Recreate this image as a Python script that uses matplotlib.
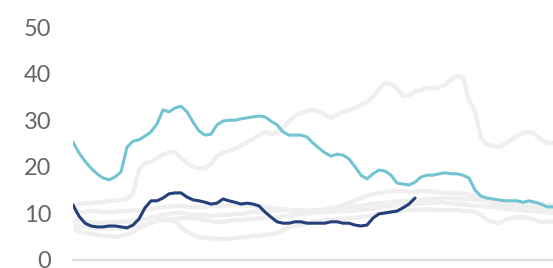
import numpy as np
import matplotlib
matplotlib.use('Agg')
import matplotlib.pyplot as plt

# highlighted series (values read every ~6 px along the x axis)
teal = [25.3, 23.0, 21.2, 19.7, 18.5, 17.6, 17.2, 17.8, 18.9, 24.2,
        25.5, 25.8, 26.6, 27.5, 29.2, 32.2, 31.8, 32.6, 33.0, 31.8,
        29.6, 27.7, 26.8, 27.0, 29.0, 29.8, 30.0, 30.0, 30.3, 30.5,
        30.7, 30.9, 30.7, 29.8, 29.0, 27.5, 26.8, 26.8, 26.8, 26.4,
        25.1, 24.0, 23.0, 22.3, 22.7, 22.5, 21.7, 20.0, 18.2, 17.4,
        18.5, 19.3, 19.1, 18.2, 16.5, 16.3, 16.1, 16.7, 17.8, 18.2,
        18.2, 18.5, 18.7, 18.5, 18.5, 18.2, 17.6, 15.0, 13.7, 13.3,
        13.1, 12.9, 12.7, 12.7, 12.7, 12.4, 12.7, 12.4, 12.0, 11.4, 11.4]

navy = [11.8, 9.4, 7.9, 7.3, 7.1, 7.1, 7.3, 7.3, 7.1, 6.9,
        7.5, 8.8, 11.2, 12.7, 12.7, 13.3, 14.2, 14.4, 14.4, 13.5,
        12.9, 12.7, 12.4, 12.0, 12.2, 13.1, 12.7, 12.4, 12.0, 12.2,
        12.0, 11.6, 10.3, 9.2, 8.2, 7.9, 7.9, 8.2, 8.2, 7.9,
        7.9, 7.9, 7.9, 8.2, 8.2, 7.9, 7.9, 7.5, 7.3, 7.5,
        9.0, 9.9, 10.1, 10.3, 10.5, 11.2, 12.0, 13.3]

# background series
grey1 = [11.8, 12.0, 12.2, 12.2, 12.4, 12.4, 12.7, 12.7, 12.9, 13.1,
         14.4, 19.3, 20.8, 21.0, 21.9, 22.7, 23.0, 23.2, 21.9, 20.8,
         20.0, 19.7, 19.7, 20.6, 22.3, 23.0, 23.4, 23.8, 24.5, 25.3,
         26.0, 26.8, 27.5, 27.0, 27.3, 28.3, 29.8, 30.9, 31.5, 32.0,
         32.2, 31.8, 31.1, 30.5, 31.1, 31.8, 32.2, 32.6, 33.3, 33.9,
         35.0, 36.7, 38.0, 37.8, 36.9, 35.2, 35.4, 36.1, 36.5, 36.9,
         36.9, 37.1, 37.6, 38.8, 39.5, 39.1, 34.3, 31.8, 26.2, 24.7,
         24.5, 24.2, 24.9, 25.8, 26.6, 27.3, 27.5, 27.0, 25.8, 25.1, 25.1]

grey2 = [6.9, 6.2, 5.8, 5.6, 5.4, 5.2, 5.2, 4.9, 5.2, 5.4,
         6.0, 6.9, 7.5, 7.9, 8.4, 8.6, 8.6, 8.2, 7.1, 6.0,
         5.4, 4.9, 4.7, 4.7, 4.5, 4.5, 4.5, 4.7, 4.9, 4.9,
         5.2, 5.2, 5.4, 5.6, 5.8, 6.4, 7.1, 7.3, 7.5, 7.9,
         8.2, 8.4, 8.6, 8.6, 8.8, 8.8, 9.0, 9.0, 9.2, 9.4,
         9.7, 9.9, 10.1, 10.3, 10.3, 10.5, 10.7, 10.7, 10.9, 10.9,
         10.7, 10.7, 10.7, 10.7, 10.7, 10.5, 10.5, 10.3, 9.7, 8.6,
         8.2, 7.9, 8.6, 9.0, 9.2, 9.2, 9.0, 8.6, 8.2, 8.2, 8.2]

grey3 = [10.3, 10.3, 10.3, 10.5, 10.5, 10.3, 10.3, 10.3, 10.5, 10.5,
         10.7, 10.7, 10.9, 11.0, 11.2, 11.4, 11.4, 11.6, 11.6, 11.4,
         11.4, 11.4, 11.4, 11.6, 11.6, 11.6, 11.8, 11.8, 11.8, 11.6,
         11.6, 11.6, 11.4, 11.2, 11.0, 10.9, 10.7, 10.5, 10.5, 10.5,
         10.7, 10.7, 10.9, 11.2, 11.4, 11.8, 12.2, 12.7, 13.3, 13.8,
         14.2, 14.4, 14.6, 14.8, 14.8, 14.8, 14.6, 14.6, 14.8, 14.8,
         14.6, 14.6, 14.4, 14.4, 14.4, 14.2, 14.0, 13.8, 13.3, 12.7,
         12.2, 11.8, 11.8, 11.6, 11.6, 11.4, 11.4, 11.2, 11.2, 11.0, 11.0]

grey4 = [8.6, 8.4, 8.2, 8.2, 8.0, 8.0, 8.0, 8.2, 8.2, 8.2,
         8.4, 8.6, 8.8, 9.0, 9.4, 9.7, 9.9, 10.1, 10.1, 9.9,
         9.7, 9.7, 9.7, 9.5, 9.5, 9.7, 9.7, 9.9, 9.9, 10.1,
         10.3, 10.3, 10.3, 10.5, 10.5, 10.7, 10.7, 10.7, 10.7, 10.5,
         10.5, 10.3, 10.3, 10.5, 10.7, 11.0, 11.2, 11.4, 11.6, 11.8,
         12.0, 12.2, 12.2, 12.4, 12.5, 12.7, 12.7, 12.9, 12.9, 13.1,
         13.1, 13.1, 13.3, 13.3, 13.1, 13.1, 13.1, 12.9, 12.9, 12.7,
         12.4, 12.2, 12.2, 12.2, 12.0, 12.0, 12.2, 12.2, 12.0, 11.8, 11.8]

grey5 = [7.5, 7.3, 7.1, 7.1, 6.9, 6.7, 6.7, 6.7, 6.9, 6.9,
         7.1, 7.3, 7.5, 7.9, 8.4, 8.6, 8.8, 8.8, 9.0, 9.0,
         9.0, 8.8, 8.6, 8.4, 8.2, 8.2, 8.4, 8.6, 8.6, 8.8,
         8.8, 9.0, 9.0, 9.2, 9.2, 9.4, 9.4, 9.7, 9.9, 9.9,
         10.1, 10.3, 10.3, 10.3, 10.5, 10.5, 10.5, 10.7, 10.7, 10.9,
         11.0, 11.2, 11.4, 11.6, 11.8, 11.8, 11.8, 12.0, 12.2, 12.2,
         12.2, 12.4, 12.2, 12.2, 12.0, 12.0, 11.8, 11.6, 11.6, 11.4,
         11.4, 11.2, 11.0, 10.9, 10.7, 10.7, 10.5, 10.5, 10.3, 10.3, 10.1]

yticks = [0, 10, 20, 30, 40, 50]

plt.rcParams['font.family'] = ['Lato', 'DejaVu Sans']

fig = plt.figure(figsize=(5.53, 2.68), dpi=100)
ax = fig.add_axes([73/553, 8/268, 1 - 73/553, 1 - 35/268])

for g in [grey1, grey2, grey3, grey4, grey5]:
    ax.plot(np.arange(len(g)), g, color='#efefef', lw=3.2,
            solid_capstyle='round', solid_joinstyle='round')

ax.plot(np.arange(len(teal)), teal, color='#72c4d3', lw=2.2,
        solid_capstyle='round', solid_joinstyle='round')
ax.plot(np.arange(len(navy)), navy, color='#243f7c', lw=2.2,
        solid_capstyle='round', solid_joinstyle='round')

ax.set_xlim(0, 80)
ax.set_ylim(0, 50)
ax.set_yticks(yticks)
ax.set_yticklabels([str(t) for t in yticks])
ax.tick_params(axis='y', length=0, pad=15.5, labelsize=17, labelcolor='#666666')
ax.set_xticks([])
for s in ['top', 'right', 'left']:
    ax.spines[s].set_visible(False)
ax.spines['bottom'].set_color('#dddddd')
ax.spines['bottom'].set_linewidth(1.6)

fig.savefig('out.png', dpi=100)
